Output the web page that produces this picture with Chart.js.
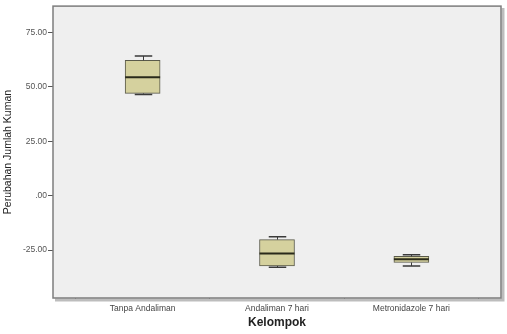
<!DOCTYPE html>
<html><head><meta charset="utf-8">
<script src="https://cdn.jsdelivr.net/npm/chart.js@4/dist/chart.umd.min.js"></script>
<style>html,body{margin:0;padding:0;background:#fff}#wrap{width:507px;height:334px}</style>
</head><body><div id="wrap"><canvas id="c" width="507" height="334"></canvas></div>
<script>
const categories = ['Tanpa Andaliman', 'Andaliman 7 hari', 'Metronidazole 7 hari'];
const positions = [1, 2, 3];
const minVals = [46.4, -32.9, -32.3];
const q1Vals = [46.9, -32.3, -30.7];
const medianVals = [54.3, -26.6, -29.2];
const q3Vals = [62.1, -20.2, -27.9];
const maxVals = [64.1, -18.9, -27.1];
const yTicks = [-25, 0, 25, 50, 75];

const FONT = 'Liberation Sans, Arial, sans-serif';

const frame = {
  id: 'frame',
  beforeDatasetsDraw(chart) {
    const {ctx, chartArea: a} = chart;
    ctx.save();
    ctx.fillStyle = '#efefef';
    ctx.fillRect(a.left, a.top, a.right - a.left, a.bottom - a.top);
    ctx.restore();
  },
  afterDatasetsDraw(chart) {
    const {ctx, chartArea: a, scales} = chart;
    const meta = chart.getDatasetMeta(0);
    const ys = scales.y;
    ctx.save();
    meta.data.forEach((bar, i) => {
      const x = Math.round(bar.x) + 0.5;
      const half = bar.width / 2;
      const cap = half / 2;
      ctx.strokeStyle = '#3a3a3a';
      ctx.lineWidth = 1;
      const yMax = ys.getPixelForValue(maxVals[i]);
      const yQ3 = ys.getPixelForValue(q3Vals[i]);
      const yQ1 = ys.getPixelForValue(q1Vals[i]);
      const yMin = ys.getPixelForValue(minVals[i]);
      ctx.beginPath();
      ctx.moveTo(x, yMax); ctx.lineTo(x, yQ3);
      ctx.moveTo(x, yQ1); ctx.lineTo(x, yMin);
      ctx.stroke();
      ctx.lineWidth = 1.5;
      ctx.beginPath();
      ctx.moveTo(x - cap, yMax); ctx.lineTo(x + cap, yMax);
      ctx.moveTo(x - cap, yMin); ctx.lineTo(x + cap, yMin);
      ctx.stroke();
      const yMed = ys.getPixelForValue(medianVals[i]);
      ctx.strokeStyle = '#2a2a1a';
      ctx.lineWidth = 2;
      ctx.beginPath();
      ctx.moveTo(bar.x - half, yMed); ctx.lineTo(bar.x + half, yMed);
      ctx.stroke();
    });
    // frame
    ctx.strokeStyle = '#bdbdbd';
    ctx.lineWidth = 3;
    ctx.beginPath();
    ctx.moveTo(a.right + 2, a.top + 2); ctx.lineTo(a.right + 2, a.bottom + 2); ctx.lineTo(a.left + 2, a.bottom + 2);
    ctx.stroke();
    ctx.strokeStyle = '#7d7d7d';
    ctx.lineWidth = 1.5;
    ctx.strokeRect(a.left, a.top, a.right - a.left, a.bottom - a.top);
    ctx.restore();
  }
};

new Chart(document.getElementById('c'), {
  type: 'bar',
  data: {
    datasets: [{
      data: positions.map((p, i) => ({x: p, y: [q1Vals[i], q3Vals[i]]})),
      backgroundColor: '#d5d19e',
      borderColor: '#5a5a4a',
      borderWidth: 1,
      borderSkipped: false,
      barThickness: 35
    }]
  },
  options: {
    responsive: false,
    animation: false,
    devicePixelRatio: 1,
    layout: {padding: {top: 5, right: 6, left: 2, bottom: 0}},
    plugins: {legend: {display: false}, tooltip: {enabled: false}},
    scales: {
      x: {
        type: 'linear',
        min: 0.333, max: 3.667,
        offset: false,
        afterBuildTicks(s) { s.ticks = positions.map(v => ({value: v})); },
        afterFit(s) { s.height = 36; },
        ticks: {
          callback: (v) => categories[positions.indexOf(v)] || '',
          font: {family: FONT, size: 8.5},
          color: '#444',
          padding: 3,
          maxRotation: 0, autoSkip: false
        },
        grid: {drawOnChartArea: false, drawTicks: true, tickLength: 3, color: '#555'},
        border: {display: false},
        title: {display: true, text: 'Kelompok', font: {family: FONT, size: 12, weight: 'bold'}, color: '#222', padding: {top: 4, bottom: 4}}
      },
      y: {
        min: -47, max: 87,
        afterBuildTicks(s) { s.ticks = yTicks.map(v => ({value: v})); },
        afterFit(s) { s.width = 51; },
        ticks: {
          callback: (v) => v === 0 ? '.00' : v.toFixed(2),
          font: {family: FONT, size: 8.5},
          color: '#555',
          padding: 1
        },
        grid: {drawOnChartArea: false, drawTicks: true, tickLength: 5, color: '#555'},
        border: {display: false},
        title: {display: true, text: 'Perubahan Jumlah Kuman', font: {family: FONT, size: 10.5}, color: '#222', padding: {top: 0, bottom: 4}}
      }
    }
  },
  plugins: [frame]
});
</script>
</body></html>
